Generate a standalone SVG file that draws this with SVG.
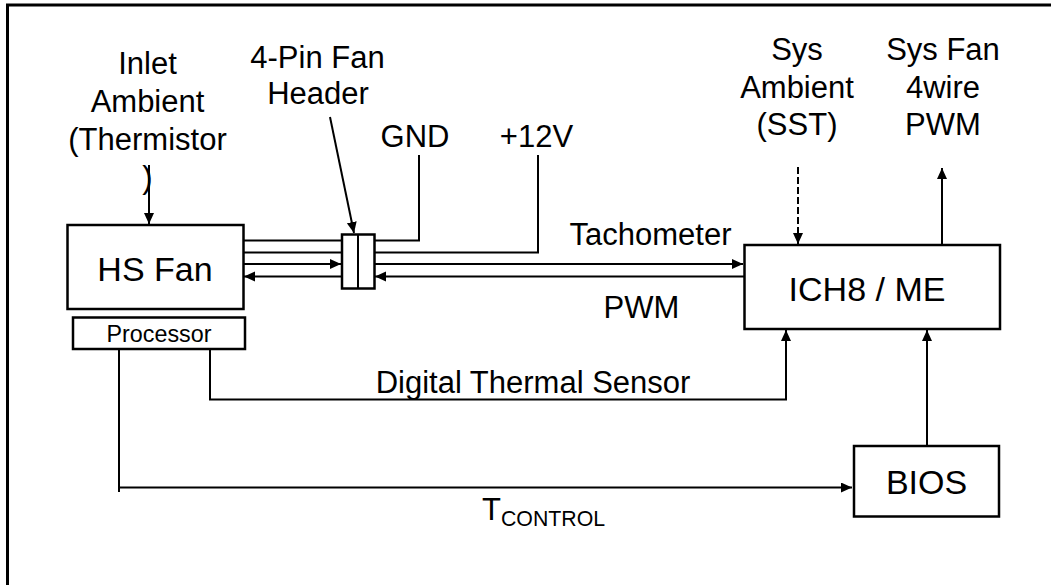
<svg xmlns="http://www.w3.org/2000/svg" width="1051" height="585" viewBox="0 0 1051 585">
<defs>
<marker id="ah" markerUnits="userSpaceOnUse" markerWidth="12" markerHeight="11" refX="11" refY="5" orient="auto">
<path d="M0,0 L11,5 L0,10 z" fill="#000"/>
</marker>
<style>
text{font-family:"Liberation Sans",Arial,sans-serif;fill:#000}
.t{font-size:31px;text-anchor:middle}
.big{font-size:34px;text-anchor:middle}
.box{fill:#fff;stroke:#000;stroke-width:2.5}
.ln{fill:none;stroke:#000;stroke-width:2}
.ar{fill:none;stroke:#000;stroke-width:2;marker-end:url(#ah)}
</style>
</defs>
<rect x="0" y="0" width="1051" height="585" fill="#fff"/>
<path d="M7.5,590 V5 H1060" fill="none" stroke="#000" stroke-width="3"/>

<g id="connectors">
<line class="ar" x1="149" y1="165" x2="149" y2="224"/>
<line class="ar" x1="330" y1="117" x2="354" y2="233"/>
<line class="ln" x1="243" y1="240.5" x2="342" y2="240.5"/>
<line class="ln" x1="243" y1="252.5" x2="342" y2="252.5"/>
<line class="ar" x1="243" y1="264" x2="341" y2="264"/>
<line class="ar" x1="342" y1="276.5" x2="244" y2="276.5"/>
<polyline class="ln" points="374,240.5 419,240.5 419,155"/>
<polyline class="ln" points="374,252.5 538,252.5 538,155"/>
<line class="ar" x1="374" y1="264" x2="743" y2="264"/>
<line class="ar" x1="744" y1="276.5" x2="375" y2="276.5"/>
<line class="ar" x1="798" y1="167" x2="798" y2="244" stroke-dasharray="7,3"/>
<line class="ar" x1="942" y1="245" x2="942" y2="168"/>
<polyline class="ar" points="210,349 210,399.5 786,399.5 786,330"/>
<line class="ln" x1="119" y1="350" x2="119" y2="492"/>
<line class="ar" x1="119" y1="487.5" x2="852" y2="487.5"/>
<line class="ar" x1="927" y1="446" x2="927" y2="330"/>
</g>

<g id="hsfan">
<rect class="box" x="67.5" y="225" width="176" height="84"/>
<text class="big" x="155" y="281">HS Fan</text>
</g>
<g id="processor">
<rect class="box" x="73" y="317.5" width="172" height="31.5"/>
<text x="159" y="342" style="font-size:23.3px;text-anchor:middle">Processor</text>
</g>
<g id="header">
<rect class="box" x="342" y="234.5" width="32.5" height="54"/>
<line class="ln" x1="358" y1="234.5" x2="358" y2="288.5"/>
</g>
<g id="ich8">
<rect class="box" x="744.5" y="245" width="255.5" height="84"/>
<text class="big" x="867" y="301">ICH8 / ME</text>
</g>
<g id="bios">
<rect class="box" x="854" y="446" width="145" height="70.5"/>
<text class="big" x="926.5" y="494">BIOS</text>
</g>

<g id="labels">
<text class="t" x="147.5" y="74">Inlet</text>
<text class="t" x="147.5" y="112">Ambient</text>
<text class="t" x="147.5" y="150">(Thermistor</text>
<text class="t" x="147.5" y="188">)</text>
<text class="t" x="317.5" y="68">4-Pin Fan</text>
<text class="t" x="318" y="104">Header</text>
<text class="t" x="415" y="146.5">GND</text>
<text class="t" x="536.5" y="146.5">+12V</text>
<text class="t" x="797" y="60">Sys</text>
<text class="t" x="797" y="98">Ambient</text>
<text class="t" x="797" y="135">(SST)</text>
<text class="t" x="943" y="60">Sys Fan</text>
<text class="t" x="943" y="98">4wire</text>
<text class="t" x="943" y="135">PWM</text>
<text class="t" x="650.5" y="245">Tachometer</text>
<text class="t" x="641.5" y="318">PWM</text>
<text class="t" x="533" y="393">Digital Thermal Sensor</text>
<text x="482" y="520" style="font-size:31px">T<tspan style="font-size:21.3px" dy="6">CONTROL</tspan></text>
</g>
</svg>
